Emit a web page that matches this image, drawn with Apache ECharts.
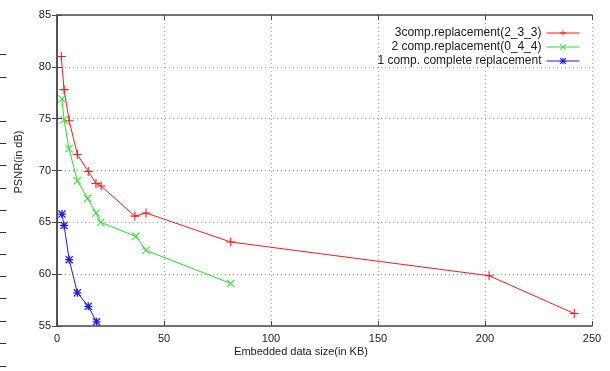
<!DOCTYPE html>
<html>
<head>
<meta charset="utf-8">
<script src="https://cdn.jsdelivr.net/npm/echarts@6/dist/echarts.min.js"></script>
<style>html,body{margin:0;padding:0;background:#fff;}#c{width:610px;height:371px;}</style>
</head>
<body>
<div id="c"></div>
<script>
// ---- data ----
const seriesNames = ['3comp.replacement(2_3_3)', '2 comp.replacement(0_4_4)', '1 comp. complete replacement'];
const redX = [2.0, 3.3, 5.7, 9.5, 14.6, 18.2, 20.6, 36.4, 41.6, 81.2, 201.9, 241.7];
const redY = [81.0, 77.8, 74.8, 71.55, 69.9, 68.75, 68.5, 65.6, 65.9, 63.1, 59.85, 56.2];
const greenX = [2.3, 3.3, 5.6, 9.5, 14.3, 18.2, 20.4, 36.8, 41.6, 81.2];
const greenY = [76.9, 74.9, 72.1, 69.0, 67.3, 65.9, 65.0, 63.65, 62.3, 59.1];
const blueX = [2.3, 3.3, 5.7, 9.5, 14.6, 18.5];
const blueY = [65.8, 64.7, 61.4, 58.2, 56.9, 55.4];
const xTicks = [0, 50, 100, 150, 200, 250];
const yTicks = [55, 60, 65, 70, 75, 80, 85];
const xTitle = 'Embedded data size(in KB)';
const yTitle = 'PSNR(in dB)';

// ---- styling ----
const FONT = 'Liberation Sans';
const plusPath = 'path://M4.4,0H5.6V10H4.4ZM0,4.4H10V5.6H0Z';
const crossPath = 'path://M0,0.8L0.8,0L10,9.2L9.2,10ZM10,0.8L0.8,10L0,9.2L9.2,0Z';
const starPath = 'path://M4.2,0H5.8V10H4.2ZM0,4.2H10V5.8H0ZM0,1.1L1.1,0L10,8.9L8.9,10ZM10,1.1L1.1,10L0,8.9L8.9,0Z';

function pairs(xs, ys) { return xs.map((x, i) => [x, ys[i]]); }

const axisLineStyle = { color: '#4a4a4a', width: 1.5 };
const tickStyle = { show: true, inside: true, length: 5, lineStyle: { color: '#4a4a4a', width: 1 } };

const chart = echarts.init(document.getElementById('c'), null, { renderer: 'canvas' });

// decorative ticks along the far left edge of the picture
const edgeDashes = [54, 77, 121, 143, 165, 188, 210, 232, 254, 276, 298, 321, 343, 366];

chart.setOption({
  backgroundColor: '#ffffff',
  animation: false,
  grid: { left: 57, right: 18, top: 15, bottom: 45, containLabel: false },
  legend: {
    data: seriesNames,
    orient: 'vertical',
    align: 'right',
    right: 25,
    top: 22,
    itemWidth: 33,
    itemHeight: 8,
    itemGap: 2,
    lineStyle: { width: 1 },
    textStyle: { fontFamily: FONT, fontSize: 12, color: '#222' }
  },
  xAxis: [
    {
      type: 'value', min: 0, max: 250, interval: 50, position: 'bottom',
      axisLine: { show: true, lineStyle: axisLineStyle },
      axisTick: tickStyle,
      axisLabel: { fontFamily: FONT, fontSize: 11, color: '#222', margin: 7,
        formatter: v => xTicks.includes(v) ? String(v) : '' },
      splitLine: { show: true, lineStyle: { color: '#aaaaaa', type: [1, 3], width: 1 } }
    },
    {
      type: 'value', min: 0, max: 250, interval: 50, position: 'top',
      axisLine: { show: true, lineStyle: axisLineStyle },
      axisTick: tickStyle,
      axisLabel: { show: false },
      splitLine: { show: false }
    }
  ],
  yAxis: [
    {
      type: 'value', min: 55, max: 85, interval: 5, position: 'left',
      axisLine: { show: true, lineStyle: axisLineStyle },
      axisTick: tickStyle,
      axisLabel: { fontFamily: FONT, fontSize: 11, color: '#222', margin: 6,
        formatter: v => yTicks.includes(v) ? String(v) : '' },
      splitLine: { show: true, lineStyle: { color: '#aaaaaa', type: [1, 3], width: 1 } }
    },
    {
      type: 'value', min: 55, max: 85, interval: 5, position: 'right',
      axisLine: { show: true, lineStyle: axisLineStyle },
      axisTick: tickStyle,
      axisLabel: { show: false },
      splitLine: { show: false }
    }
  ],
  series: [
    {
      name: seriesNames[0], type: 'line', data: pairs(redX, redY),
      xAxisIndex: 0, yAxisIndex: 0,
      symbol: plusPath, symbolSize: 9, showAllSymbol: true,
      lineStyle: { color: '#ff1a1a', width: 1 },
      itemStyle: { color: '#ff1a1a' }
    },
    {
      name: seriesNames[1], type: 'line', data: pairs(greenX, greenY),
      xAxisIndex: 0, yAxisIndex: 0,
      symbol: crossPath, symbolSize: 8, showAllSymbol: true,
      lineStyle: { color: '#1ee61e', width: 1 },
      itemStyle: { color: '#1ee61e' }
    },
    {
      name: seriesNames[2], type: 'line', data: pairs(blueX, blueY),
      xAxisIndex: 0, yAxisIndex: 0,
      symbol: starPath, symbolSize: 8, showAllSymbol: true,
      lineStyle: { color: '#1a1aff', width: 1 },
      itemStyle: { color: '#1a1aff' }
    }
  ],
  graphic: [
    {
      type: 'text', rotation: Math.PI / 2, x: 19, y: 162,
      style: { text: yTitle, font: '11px ' + FONT, fill: '#222', textAlign: 'center', textVerticalAlign: 'middle' }
    },
    {
      type: 'text', x: 301, y: 352,
      style: { text: xTitle, font: '11px ' + FONT, fill: '#222', textAlign: 'center', textVerticalAlign: 'middle' }
    }
  ].concat(edgeDashes.map(y => ({
    type: 'line', shape: { x1: 0, y1: y + 0.5, x2: 6, y2: y + 0.5 },
    style: { stroke: '#333', lineWidth: 1 }
  })))
});
</script>
</body>
</html>
